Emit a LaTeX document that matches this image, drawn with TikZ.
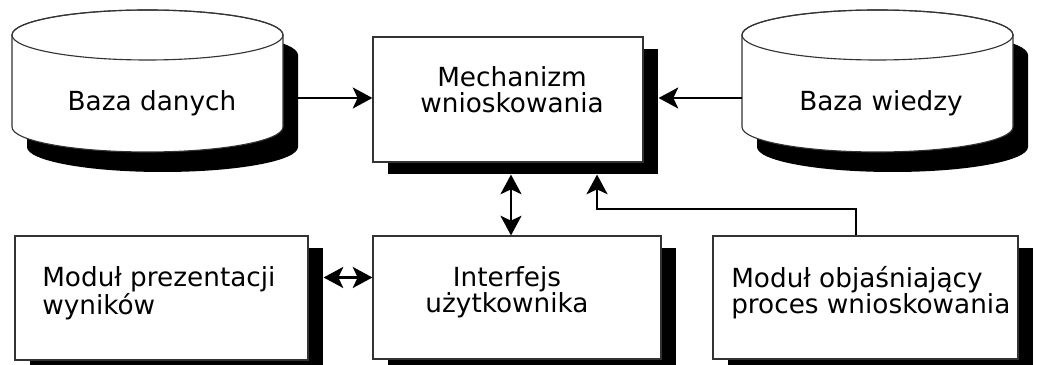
\documentclass[tikz,border=0pt]{standalone}
\usepackage{fontspec}
\setmainfont{DejaVu Sans}
\usetikzlibrary{shadows,arrows.meta,positioning}

\tikzset{
  kontur/.style={draw=black!80,line width=0.8pt},
  blok/.style={kontur,fill=white,
    drop shadow={shadow xshift=0.375cm,shadow yshift=-0.3cm,fill=black,opacity=1}},
  napis/.style={font=\fontsize{18.7}{18.5}\selectfont,inner sep=0pt},
  strz/.style={line width=1.5pt,-{Stealth[length=14pt,width=15pt,inset=3.5pt]}},
  dwustrz/.style={line width=1.5pt,{Stealth[length=14pt,width=15pt,inset=3.5pt]}-{Stealth[length=14pt,width=15pt,inset=3.5pt]}},
  % walec bazy: cien, korpus i gorna elipsa
  walec/.pic={
    \fill[shift={(15,20)}] (0,35) -- (0,127) arc[start angle=180,end angle=0,x radius=135.5,y radius=25]
      -- (271,35) arc[start angle=0,end angle=-180,x radius=135.5,y radius=25] -- cycle;
    \draw[kontur,fill=white] (0,35) -- (0,127) arc[start angle=180,end angle=0,x radius=135.5,y radius=25]
      -- (271,35) arc[start angle=0,end angle=-180,x radius=135.5,y radius=25] -- cycle;
    \draw[kontur] (135.5,35) ellipse[x radius=135.5,y radius=25];
  },
}

\begin{document}
\begin{tikzpicture}[x=0.025cm,y=-0.025cm]
  \useasboundingbox (0,0) rectangle (1042,365);
  % bazy
  \pic at (12,0) {walec};
  \pic at (742,0) {walec};
  \node[napis,anchor=base] (danych) at (152,111) {Baza danych};
  \node[napis,anchor=base] (wiedzy) at (881,111) {Baza wiedzy};
  \coordinate (d-wyj) at (298,98);
  \coordinate (w-wyj) at (742,98);
  % bloki
  \node[blok,minimum width=6.75cm,minimum height=3.125cm] (mech) at (508,99.5) {};
  \node[blok,minimum width=7.325cm,minimum height=3.1cm] (prez) at (161.5,298) {};
  \node[blok,minimum width=7.2cm,minimum height=3.075cm] (interf) at (517,297.5) {};
  \node[blok,minimum width=7.625cm,minimum height=3.075cm] (objas) at (865.5,297.5) {};
  \node[napis,align=center,anchor=north] (mech-t) at (512,66) {Mechanizm\\wnioskowania};
  \node[napis,align=left,anchor=north west] (prez-t) at (42,266) {Moduł prezentacji\\wyników};
  \node[napis,align=center,anchor=north] (interf-t) at (507,266) {Interfejs\\użytkownika};
  \node[napis,align=left,anchor=north west] (objas-t) at (731,266) {Moduł objaśniający\\proces wnioskowania};
  % polaczenia
  \coordinate (p-wyj) at ([xshift=0.375cm]prez.east);
  \coordinate (i-wej) at ([yshift=0.5cm]interf.west);
  \coordinate (m-dol) at ([xshift=0.075cm,yshift=-0.3cm]mech.south);
  \coordinate (m-wej) at ([xshift=2.225cm,yshift=-0.3cm]mech.south);
  \draw[strz] (d-wyj) -- (d-wyj -| mech.west);
  \draw[strz] (w-wyj) -- ([xshift=0.375cm]w-wyj -| mech.east);
  \draw[dwustrz] (m-dol) -- (m-dol |- interf.north);
  \draw[strz] ([xshift=-0.24cm]objas.north) -- ++(0,-26) -| (m-wej);
  \draw[dwustrz] (p-wyj |- i-wej) -- (i-wej);
\end{tikzpicture}
\end{document}
